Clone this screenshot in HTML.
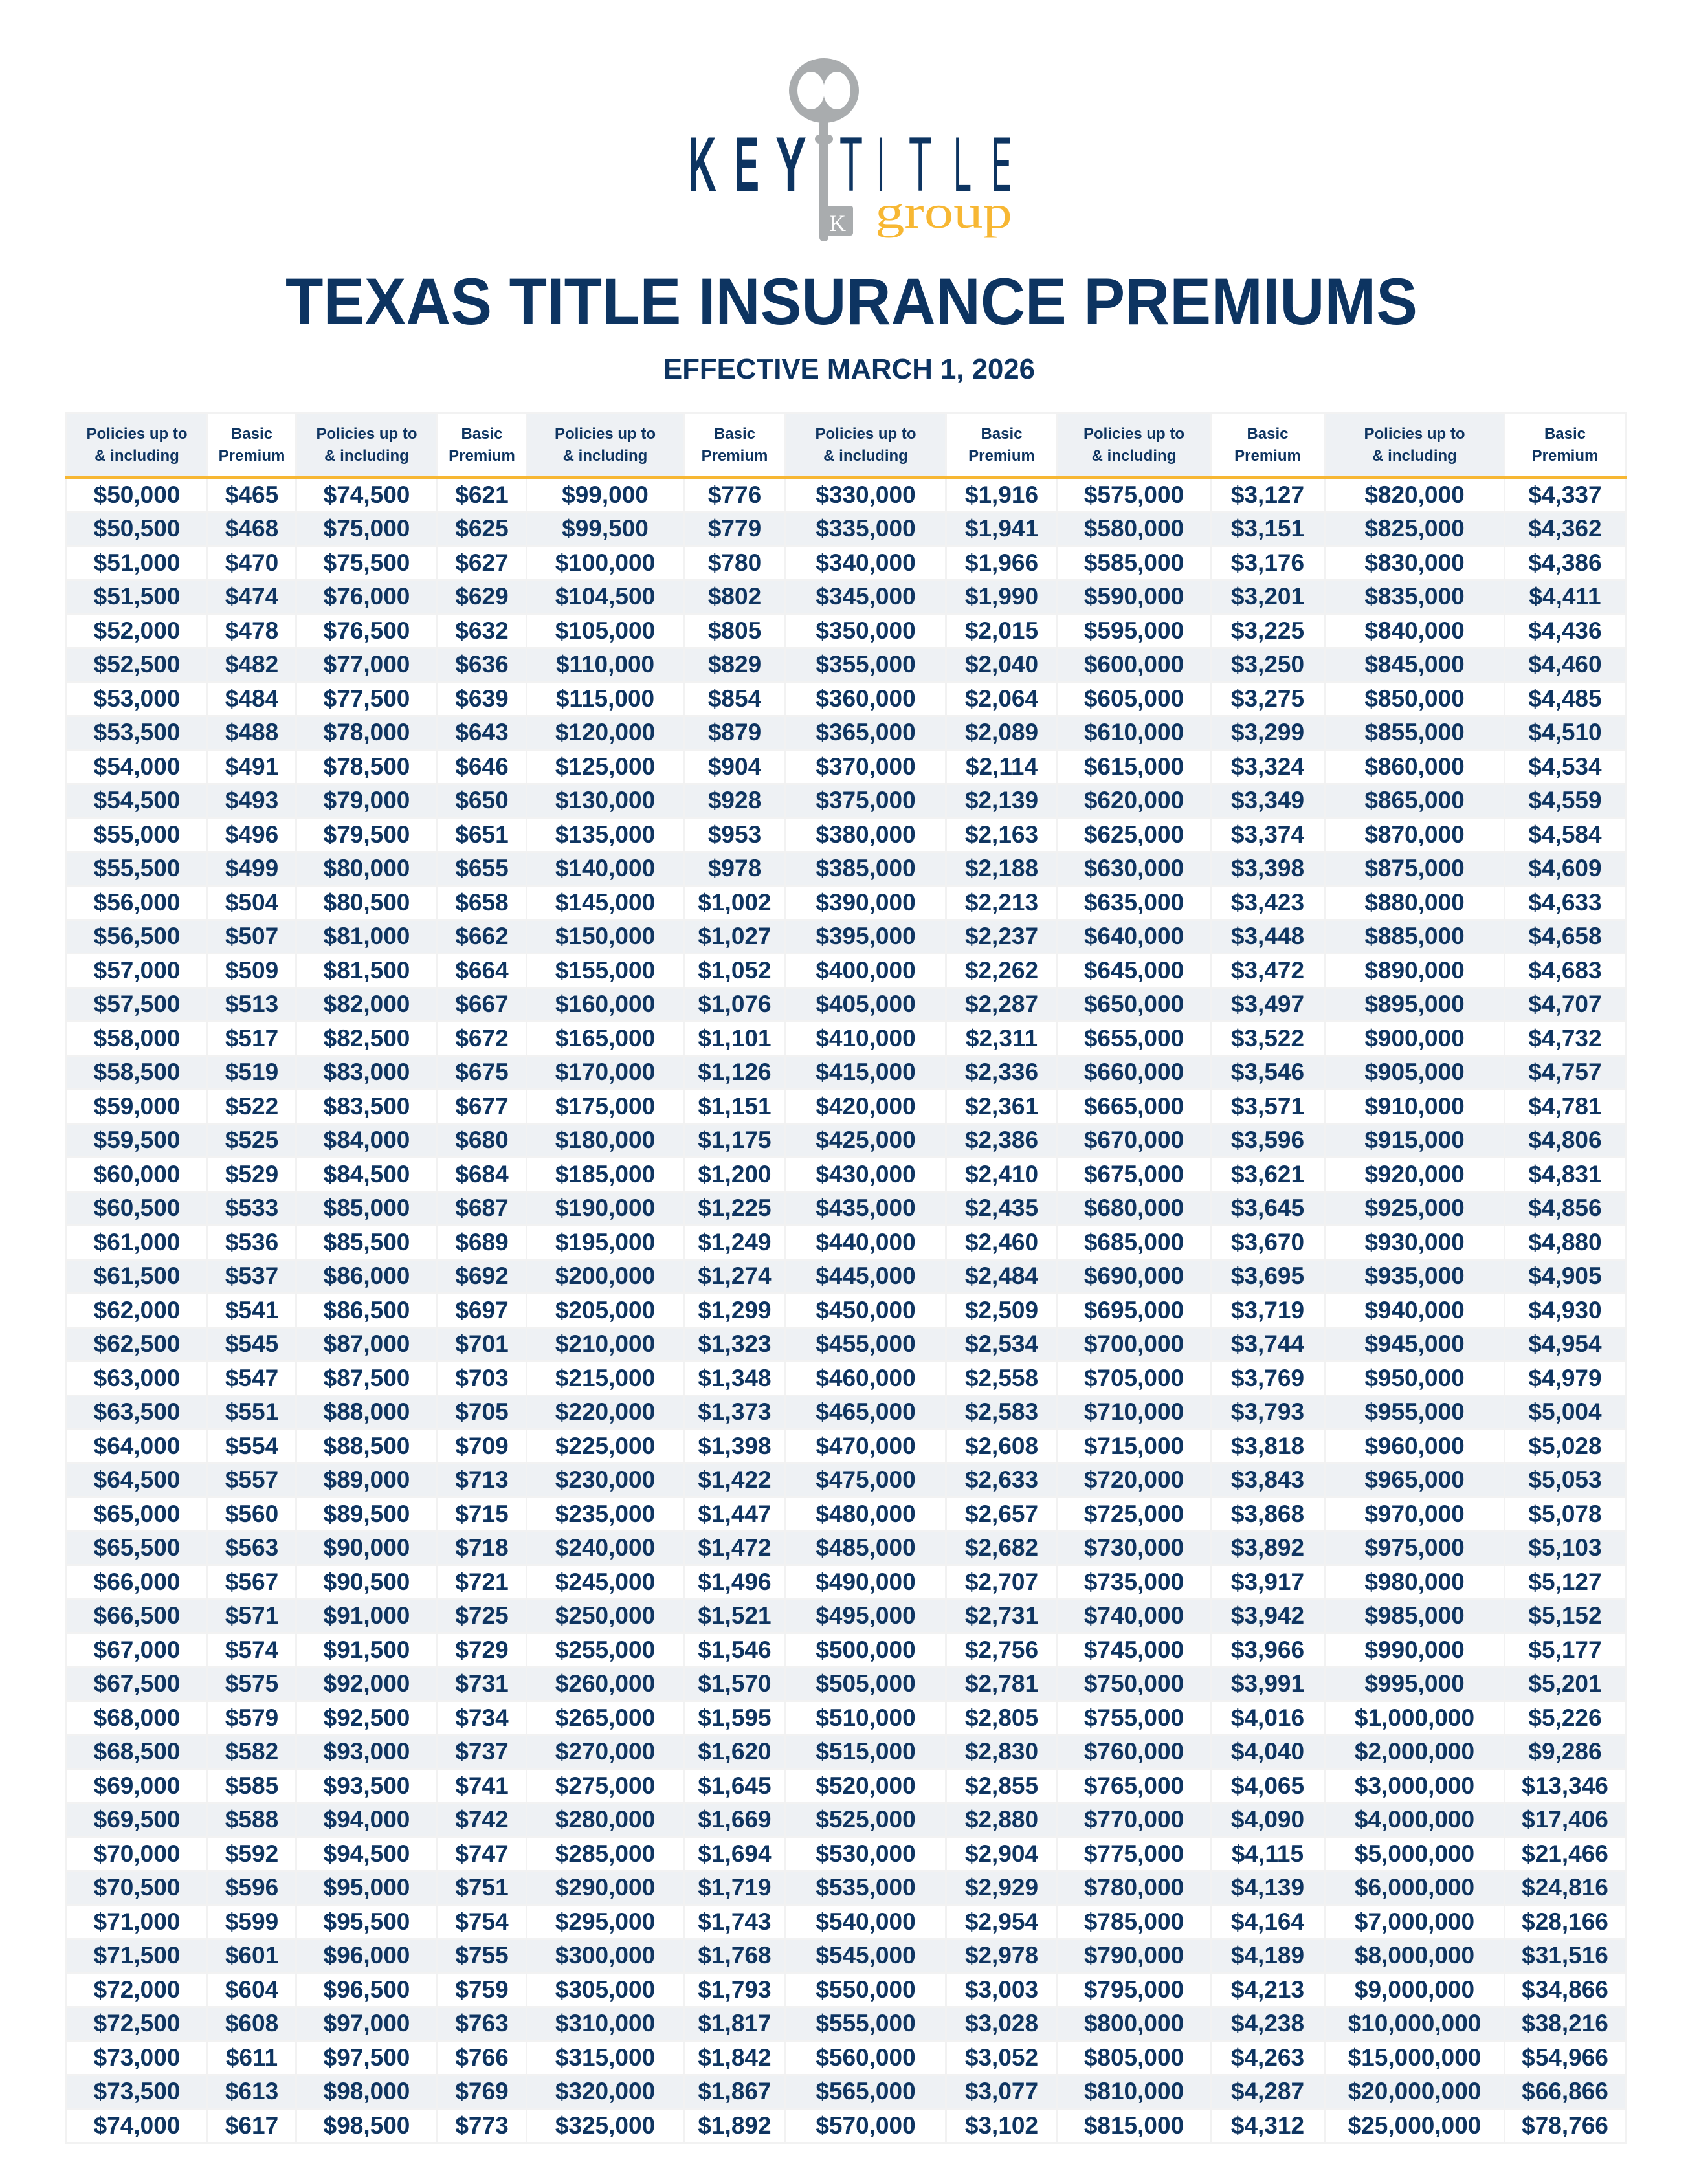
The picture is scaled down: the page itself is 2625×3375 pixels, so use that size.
<!DOCTYPE html>
<html><head><meta charset="utf-8">
<style>
html,body{margin:0;padding:0;background:#fff;}
body{width:2625px;height:3375px;position:relative;overflow:hidden;font-family:"Liberation Sans",sans-serif;}
svg.hdr{position:absolute;left:0;top:0;}
table{position:absolute;left:101px;top:637px;width:2409px;border-collapse:collapse;table-layout:fixed;color:#0f3561;font-weight:bold;}
td,th{border:3px solid #f2f2f2;text-align:center;padding:0;white-space:nowrap;overflow:hidden;}
th{height:95px;font-size:24px;line-height:34px;border-bottom:5px solid #f7b733;}
th.p{background:#eef1f4;}
th.b{background:#fff;}
td{font-size:37px;height:49.5px;line-height:46px;}
tbody tr:nth-child(even) td{background:#eef1f4;}
tbody tr:nth-child(odd) td{background:#fff;}
</style></head><body>
<svg class="hdr" width="2625" height="640" xmlns="http://www.w3.org/2000/svg">
  <ellipse cx="1273" cy="140" rx="54" ry="50" fill="#a9acae"/>
  <ellipse cx="1253" cy="140" rx="21" ry="29" fill="#fff"/>
  <ellipse cx="1293" cy="140" rx="21" ry="29" fill="#fff"/>
  <rect x="1266" y="185" width="14" height="188" rx="6" fill="#a9acae"/>
  <rect x="1259" y="208" width="28" height="14" rx="7" fill="#a9acae"/>
  <rect x="1270" y="318" width="48" height="46" rx="4" fill="#a9acae"/>
  <text x="1294" y="357" font-family="Liberation Serif,serif" font-size="36" fill="#fff" text-anchor="middle">K</text>
  <g font-family="Liberation Sans,sans-serif" font-weight="bold" font-size="120" fill="#0d3461">
    <text x="1063" y="295" textLength="44" lengthAdjust="spacingAndGlyphs">K</text>
    <text x="1135" y="295" textLength="38" lengthAdjust="spacingAndGlyphs">E</text>
    <text x="1198" y="295" textLength="48" lengthAdjust="spacingAndGlyphs">Y</text>
  </g>
  <g font-family="Liberation Sans,sans-serif" font-size="120" fill="#0d3461">
    <text x="1297" y="295" textLength="36" lengthAdjust="spacingAndGlyphs">T</text>
    <text x="1355" y="295" textLength="12" lengthAdjust="spacingAndGlyphs">I</text>
    <text x="1404" y="295" textLength="36" lengthAdjust="spacingAndGlyphs">T</text>
    <text x="1473" y="295" textLength="28" lengthAdjust="spacingAndGlyphs">L</text>
    <text x="1532" y="295" textLength="31" lengthAdjust="spacingAndGlyphs">E</text>
  </g>
  <text x="1352" y="352" font-family="Liberation Serif,serif" font-size="72" fill="#f7b733" textLength="212" lengthAdjust="spacingAndGlyphs">group</text>
  <text x="441" y="501" font-family="Liberation Sans,sans-serif" font-weight="bold" font-size="102" fill="#0d3461" textLength="1749" lengthAdjust="spacingAndGlyphs">TEXAS TITLE INSURANCE PREMIUMS</text>
  <text x="1025" y="585" font-family="Liberation Sans,sans-serif" font-weight="bold" font-size="44" fill="#0d3461" textLength="574" lengthAdjust="spacingAndGlyphs">EFFECTIVE MARCH 1, 2026</text>
</svg>
<table>
<colgroup><col style="width:218px"><col style="width:137px"><col style="width:218px"><col style="width:138px"><col style="width:243px"><col style="width:157px"><col style="width:248px"><col style="width:172px"><col style="width:237px"><col style="width:176px"><col style="width:278px"><col style="width:187px"></colgroup>
<thead><tr>
<th class="p">Policies up to<br>&amp; including</th><th class="b">Basic<br>Premium</th>
<th class="p">Policies up to<br>&amp; including</th><th class="b">Basic<br>Premium</th>
<th class="p">Policies up to<br>&amp; including</th><th class="b">Basic<br>Premium</th>
<th class="p">Policies up to<br>&amp; including</th><th class="b">Basic<br>Premium</th>
<th class="p">Policies up to<br>&amp; including</th><th class="b">Basic<br>Premium</th>
<th class="p">Policies up to<br>&amp; including</th><th class="b">Basic<br>Premium</th>
</tr></thead>
<tbody>
<tr><td>$50,000<td>$465<td>$74,500<td>$621<td>$99,000<td>$776<td>$330,000<td>$1,916<td>$575,000<td>$3,127<td>$820,000<td>$4,337</tr>
<tr><td>$50,500<td>$468<td>$75,000<td>$625<td>$99,500<td>$779<td>$335,000<td>$1,941<td>$580,000<td>$3,151<td>$825,000<td>$4,362</tr>
<tr><td>$51,000<td>$470<td>$75,500<td>$627<td>$100,000<td>$780<td>$340,000<td>$1,966<td>$585,000<td>$3,176<td>$830,000<td>$4,386</tr>
<tr><td>$51,500<td>$474<td>$76,000<td>$629<td>$104,500<td>$802<td>$345,000<td>$1,990<td>$590,000<td>$3,201<td>$835,000<td>$4,411</tr>
<tr><td>$52,000<td>$478<td>$76,500<td>$632<td>$105,000<td>$805<td>$350,000<td>$2,015<td>$595,000<td>$3,225<td>$840,000<td>$4,436</tr>
<tr><td>$52,500<td>$482<td>$77,000<td>$636<td>$110,000<td>$829<td>$355,000<td>$2,040<td>$600,000<td>$3,250<td>$845,000<td>$4,460</tr>
<tr><td>$53,000<td>$484<td>$77,500<td>$639<td>$115,000<td>$854<td>$360,000<td>$2,064<td>$605,000<td>$3,275<td>$850,000<td>$4,485</tr>
<tr><td>$53,500<td>$488<td>$78,000<td>$643<td>$120,000<td>$879<td>$365,000<td>$2,089<td>$610,000<td>$3,299<td>$855,000<td>$4,510</tr>
<tr><td>$54,000<td>$491<td>$78,500<td>$646<td>$125,000<td>$904<td>$370,000<td>$2,114<td>$615,000<td>$3,324<td>$860,000<td>$4,534</tr>
<tr><td>$54,500<td>$493<td>$79,000<td>$650<td>$130,000<td>$928<td>$375,000<td>$2,139<td>$620,000<td>$3,349<td>$865,000<td>$4,559</tr>
<tr><td>$55,000<td>$496<td>$79,500<td>$651<td>$135,000<td>$953<td>$380,000<td>$2,163<td>$625,000<td>$3,374<td>$870,000<td>$4,584</tr>
<tr><td>$55,500<td>$499<td>$80,000<td>$655<td>$140,000<td>$978<td>$385,000<td>$2,188<td>$630,000<td>$3,398<td>$875,000<td>$4,609</tr>
<tr><td>$56,000<td>$504<td>$80,500<td>$658<td>$145,000<td>$1,002<td>$390,000<td>$2,213<td>$635,000<td>$3,423<td>$880,000<td>$4,633</tr>
<tr><td>$56,500<td>$507<td>$81,000<td>$662<td>$150,000<td>$1,027<td>$395,000<td>$2,237<td>$640,000<td>$3,448<td>$885,000<td>$4,658</tr>
<tr><td>$57,000<td>$509<td>$81,500<td>$664<td>$155,000<td>$1,052<td>$400,000<td>$2,262<td>$645,000<td>$3,472<td>$890,000<td>$4,683</tr>
<tr><td>$57,500<td>$513<td>$82,000<td>$667<td>$160,000<td>$1,076<td>$405,000<td>$2,287<td>$650,000<td>$3,497<td>$895,000<td>$4,707</tr>
<tr><td>$58,000<td>$517<td>$82,500<td>$672<td>$165,000<td>$1,101<td>$410,000<td>$2,311<td>$655,000<td>$3,522<td>$900,000<td>$4,732</tr>
<tr><td>$58,500<td>$519<td>$83,000<td>$675<td>$170,000<td>$1,126<td>$415,000<td>$2,336<td>$660,000<td>$3,546<td>$905,000<td>$4,757</tr>
<tr><td>$59,000<td>$522<td>$83,500<td>$677<td>$175,000<td>$1,151<td>$420,000<td>$2,361<td>$665,000<td>$3,571<td>$910,000<td>$4,781</tr>
<tr><td>$59,500<td>$525<td>$84,000<td>$680<td>$180,000<td>$1,175<td>$425,000<td>$2,386<td>$670,000<td>$3,596<td>$915,000<td>$4,806</tr>
<tr><td>$60,000<td>$529<td>$84,500<td>$684<td>$185,000<td>$1,200<td>$430,000<td>$2,410<td>$675,000<td>$3,621<td>$920,000<td>$4,831</tr>
<tr><td>$60,500<td>$533<td>$85,000<td>$687<td>$190,000<td>$1,225<td>$435,000<td>$2,435<td>$680,000<td>$3,645<td>$925,000<td>$4,856</tr>
<tr><td>$61,000<td>$536<td>$85,500<td>$689<td>$195,000<td>$1,249<td>$440,000<td>$2,460<td>$685,000<td>$3,670<td>$930,000<td>$4,880</tr>
<tr><td>$61,500<td>$537<td>$86,000<td>$692<td>$200,000<td>$1,274<td>$445,000<td>$2,484<td>$690,000<td>$3,695<td>$935,000<td>$4,905</tr>
<tr><td>$62,000<td>$541<td>$86,500<td>$697<td>$205,000<td>$1,299<td>$450,000<td>$2,509<td>$695,000<td>$3,719<td>$940,000<td>$4,930</tr>
<tr><td>$62,500<td>$545<td>$87,000<td>$701<td>$210,000<td>$1,323<td>$455,000<td>$2,534<td>$700,000<td>$3,744<td>$945,000<td>$4,954</tr>
<tr><td>$63,000<td>$547<td>$87,500<td>$703<td>$215,000<td>$1,348<td>$460,000<td>$2,558<td>$705,000<td>$3,769<td>$950,000<td>$4,979</tr>
<tr><td>$63,500<td>$551<td>$88,000<td>$705<td>$220,000<td>$1,373<td>$465,000<td>$2,583<td>$710,000<td>$3,793<td>$955,000<td>$5,004</tr>
<tr><td>$64,000<td>$554<td>$88,500<td>$709<td>$225,000<td>$1,398<td>$470,000<td>$2,608<td>$715,000<td>$3,818<td>$960,000<td>$5,028</tr>
<tr><td>$64,500<td>$557<td>$89,000<td>$713<td>$230,000<td>$1,422<td>$475,000<td>$2,633<td>$720,000<td>$3,843<td>$965,000<td>$5,053</tr>
<tr><td>$65,000<td>$560<td>$89,500<td>$715<td>$235,000<td>$1,447<td>$480,000<td>$2,657<td>$725,000<td>$3,868<td>$970,000<td>$5,078</tr>
<tr><td>$65,500<td>$563<td>$90,000<td>$718<td>$240,000<td>$1,472<td>$485,000<td>$2,682<td>$730,000<td>$3,892<td>$975,000<td>$5,103</tr>
<tr><td>$66,000<td>$567<td>$90,500<td>$721<td>$245,000<td>$1,496<td>$490,000<td>$2,707<td>$735,000<td>$3,917<td>$980,000<td>$5,127</tr>
<tr><td>$66,500<td>$571<td>$91,000<td>$725<td>$250,000<td>$1,521<td>$495,000<td>$2,731<td>$740,000<td>$3,942<td>$985,000<td>$5,152</tr>
<tr><td>$67,000<td>$574<td>$91,500<td>$729<td>$255,000<td>$1,546<td>$500,000<td>$2,756<td>$745,000<td>$3,966<td>$990,000<td>$5,177</tr>
<tr><td>$67,500<td>$575<td>$92,000<td>$731<td>$260,000<td>$1,570<td>$505,000<td>$2,781<td>$750,000<td>$3,991<td>$995,000<td>$5,201</tr>
<tr><td>$68,000<td>$579<td>$92,500<td>$734<td>$265,000<td>$1,595<td>$510,000<td>$2,805<td>$755,000<td>$4,016<td>$1,000,000<td>$5,226</tr>
<tr><td>$68,500<td>$582<td>$93,000<td>$737<td>$270,000<td>$1,620<td>$515,000<td>$2,830<td>$760,000<td>$4,040<td>$2,000,000<td>$9,286</tr>
<tr><td>$69,000<td>$585<td>$93,500<td>$741<td>$275,000<td>$1,645<td>$520,000<td>$2,855<td>$765,000<td>$4,065<td>$3,000,000<td>$13,346</tr>
<tr><td>$69,500<td>$588<td>$94,000<td>$742<td>$280,000<td>$1,669<td>$525,000<td>$2,880<td>$770,000<td>$4,090<td>$4,000,000<td>$17,406</tr>
<tr><td>$70,000<td>$592<td>$94,500<td>$747<td>$285,000<td>$1,694<td>$530,000<td>$2,904<td>$775,000<td>$4,115<td>$5,000,000<td>$21,466</tr>
<tr><td>$70,500<td>$596<td>$95,000<td>$751<td>$290,000<td>$1,719<td>$535,000<td>$2,929<td>$780,000<td>$4,139<td>$6,000,000<td>$24,816</tr>
<tr><td>$71,000<td>$599<td>$95,500<td>$754<td>$295,000<td>$1,743<td>$540,000<td>$2,954<td>$785,000<td>$4,164<td>$7,000,000<td>$28,166</tr>
<tr><td>$71,500<td>$601<td>$96,000<td>$755<td>$300,000<td>$1,768<td>$545,000<td>$2,978<td>$790,000<td>$4,189<td>$8,000,000<td>$31,516</tr>
<tr><td>$72,000<td>$604<td>$96,500<td>$759<td>$305,000<td>$1,793<td>$550,000<td>$3,003<td>$795,000<td>$4,213<td>$9,000,000<td>$34,866</tr>
<tr><td>$72,500<td>$608<td>$97,000<td>$763<td>$310,000<td>$1,817<td>$555,000<td>$3,028<td>$800,000<td>$4,238<td>$10,000,000<td>$38,216</tr>
<tr><td>$73,000<td>$611<td>$97,500<td>$766<td>$315,000<td>$1,842<td>$560,000<td>$3,052<td>$805,000<td>$4,263<td>$15,000,000<td>$54,966</tr>
<tr><td>$73,500<td>$613<td>$98,000<td>$769<td>$320,000<td>$1,867<td>$565,000<td>$3,077<td>$810,000<td>$4,287<td>$20,000,000<td>$66,866</tr>
<tr><td>$74,000<td>$617<td>$98,500<td>$773<td>$325,000<td>$1,892<td>$570,000<td>$3,102<td>$815,000<td>$4,312<td>$25,000,000<td>$78,766</tr>
</tbody></table>
</body></html>
